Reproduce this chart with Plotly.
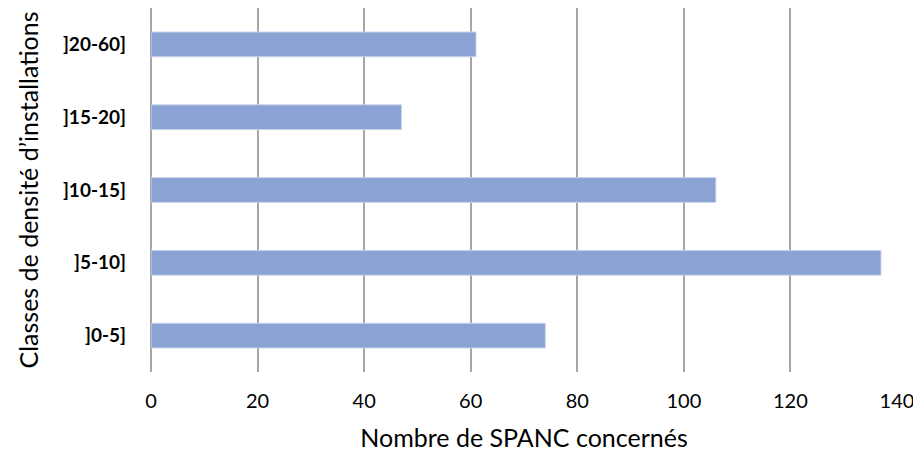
import plotly.graph_objects as go

categories = ["]0-5]", "]5-10]", "]10-15]", "]15-20]", "]20-60]"]
values = [74, 137, 106, 47, 61]
x_ticks = [0, 20, 40, 60, 80, 100, 120, 140]

fig = go.Figure()
fig.add_trace(go.Bar(
    y=categories, x=values, orientation="h",
    marker=dict(color="#8aa2d4", line=dict(color="#c9d4ec", width=1)),
    width=0.34,
))

font_family = "Lato, 'Open Sans', sans-serif"
# page is offset by the 8px default body margin, so the figure is 8px smaller
fig.update_layout(
    width=913, height=447,
    margin=dict(l=143, r=24, t=0, b=83, autoexpand=False),
    paper_bgcolor="white", plot_bgcolor="white",
    showlegend=False,
    font=dict(family=font_family, color="#000000"),
    xaxis=dict(
        range=[0, 140], tickvals=x_ticks,
        showgrid=True, gridcolor="#a6a6a6", gridwidth=1.5,
        zeroline=True, zerolinecolor="#a6a6a6", zerolinewidth=1.5,
        showline=False, ticks="",
        tickfont=dict(size=20, family=font_family),
        ticklabelstandoff=15,
        automargin=False,
        title=dict(text="Nombre de SPANC concernés", font=dict(size=25, family=font_family), standoff=18),
    ),
    yaxis=dict(
        categoryorder="array", categoryarray=categories,
        showgrid=False, showline=False, ticks="",
        tickfont=dict(size=19, family=font_family, weight="bold"),
        ticklabelstandoff=24,
        automargin=False,
        title=dict(text="Classes de densité d’installations", font=dict(size=25, family=font_family), standoff=17),
    ),
)

fig.write_html("out.html")
